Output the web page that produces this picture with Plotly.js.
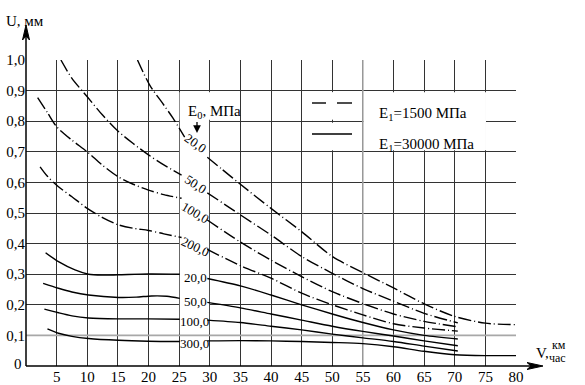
<!DOCTYPE html>
<html>
<head>
<meta charset="utf-8">
<script src="https://cdn.plot.ly/plotly-3.0.1.min.js"></script>
<style>html,body{margin:0;padding:0;background:#fff;}#chart{width:585px;height:385px;}</style>
</head>
<body>
<div id="chart"></div>
<script>
// ---- data ----
const X_TICKS = [5,10,15,20,25,30,35,40,45,50,55,60,65,70,75,80];
const X_TICK_TEXT = ['5','10','15','20','25','30','35','40','45','50','55','60','65','70','75','80'];
const Y_TICKS = [0.1,0.2,0.3,0.4,0.5,0.6,0.7,0.8,0.9,1.0];
const Y_TICK_TEXT = ['0,1','0,2','0,3','0,4','0,5','0,6','0,7','0,8','0,9','1,0'];

// E1 = 1500 MPa (dashed), E0 = 20, 50, 100, 200
const V_D20  = [18.2,20.2,22.5,24,25.9,null,29.6,32,35,40,45,50,55,60,65,70,75,80];
const U_D20  = [1.0,0.918,0.853,0.81,0.748,null,0.682,0.643,0.594,0.515,0.439,0.358,0.305,0.255,0.203,0.162,0.14,0.135];
const V_D50  = [5.7,7.5,10,12.5,15,17.5,20,22.5,25.4,null,29.6,35,40,45,50,55,60,65,70.5];
const U_D50  = [1.0,0.94,0.88,0.82,0.768,0.727,0.69,0.657,0.624,null,0.566,0.494,0.428,0.358,0.303,0.253,0.212,0.172,0.141];
const V_D100 = [1.9,3.5,5,7.5,10,12.5,15,17.5,20,22.5,25.4,null,29.6,35,40,45,50,55,60,65,70.5];
const U_D100 = [0.877,0.828,0.782,0.738,0.70,0.656,0.619,0.594,0.575,0.56,0.548,null,0.477,0.405,0.346,0.292,0.243,0.204,0.17,0.146,0.128];
const V_D200 = [2.3,3.5,5.3,7.5,10,12.5,15,17.5,20,22.5,25.4,null,29.6,35,40,45,50,55,60,65,70.5];
const U_D200 = [0.651,0.62,0.586,0.553,0.515,0.485,0.462,0.45,0.443,0.432,0.42,null,0.381,0.328,0.287,0.238,0.2,0.167,0.138,0.124,0.114];

// E1 = 30000 MPa (solid), E0 = 20, 50, 100, 300
const V_S20  = [3.2,5.3,8,10.2,12.5,15,20,25.1,null,29.6,35,40,45,50,55,60,65,70.5];
const U_S20  = [0.37,0.341,0.314,0.3,0.297,0.298,0.301,0.3,null,0.286,0.262,0.232,0.2,0.17,0.142,0.118,0.1,0.088];
const V_S50  = [2.8,5.3,7.5,10.2,15.1,18,20.5,23,25.1,null,29.6,35,40,45,50,55,60,65,70.5];
const U_S50  = [0.27,0.254,0.242,0.232,0.224,0.225,0.229,0.228,0.221,null,0.208,0.19,0.17,0.15,0.13,0.113,0.098,0.082,0.066];
const V_S100 = [3,5.3,7.5,10.2,15,20,25.1,null,29.6,35,40,45,50,55,60,65,70.5];
const U_S100 = [0.186,0.174,0.164,0.157,0.154,0.154,0.153,null,0.15,0.142,0.13,0.118,0.104,0.092,0.08,0.065,0.049];
const V_S300 = [3.5,5.3,7.5,10.2,15.1,20,25.1,null,29.6,35,40,45,50,55,60,65,70,75,80];
const U_S300 = [0.121,0.107,0.097,0.09,0.084,0.081,0.08,null,0.082,0.083,0.082,0.08,0.077,0.073,0.063,0.048,0.037,0.034,0.034];

const LABELS_D = ['20,0','50,0','100,0','200,0'];
const LABELS_S = ['20,0','50,0','100,0','300,0'];
const LEGEND_TEXT = ['E<sub>1</sub>=1500 МПа','E<sub>1</sub>=30000 МПа'];

// ---- build ----
const FONT = 'Liberation Serif';
const DASH = '13px,3px,1px,3px';
function tr(x, y, dashed) {
  return {x: x, y: y, type: 'scatter', mode: 'lines', connectgaps: false, hoverinfo: 'skip',
    line: {color: '#000', width: 1.4, shape: 'spline', smoothing: 0.8, dash: dashed ? DASH : 'solid'},
    showlegend: false};
}
const data = [
  tr(V_D20, U_D20, true), tr(V_D50, U_D50, true), tr(V_D100, U_D100, true), tr(V_D200, U_D200, true),
  tr(V_S20, U_S20, false), tr(V_S50, U_S50, false), tr(V_S100, U_S100, false), tr(V_S300, U_S300, false)
];

// pixel helpers for the plot frame (l=26, t=60, w=490, h=306)
const PX = p => (p - 26) / 490;
const PY = p => (366 - p) / 306;

const white = (x0, x1, y0, y1) => ({type: 'rect', xref: 'x', yref: 'y', x0: x0, x1: x1, y0: y0, y1: y1,
  fillcolor: '#fff', line: {width: 0}, layer: 'between'});
const shapes = [
  white(25.1, 29.9, 0.105, 0.895),   // gap with curve labels
  white(25.1, 34.8, 0.805, 0.895),   // E0 label
  white(55.1, 75.1, 0.705, 0.895),   // legend box
  white(49.6, 50.4, 0.705, 0.795),
  white(49.6, 50.4, 0.805, 0.895),
  // lighter grid lines seen in the reference
  {type: 'line', xref: 'x', yref: 'y', x0: 0, x1: 80, y0: 0.1, y1: 0.1, line: {color: '#a8a8a8', width: 1.6}, layer: 'between'},
  {type: 'rect', xref: 'x', yref: 'y', x0: 54.88, x1: 55.12, y0: 0, y1: 1, fillcolor: '#a8a8a8', line: {width: 0}, layer: 'between'},
  // axes with arrows
  {type: 'line', xref: 'paper', yref: 'paper', x0: 0, x1: 0, y0: 0, y1: PY(36), line: {color: '#000', width: 1.5}},
  {type: 'path', xref: 'paper', yref: 'paper', path: `M ${PX(26)} ${PY(25)} L ${PX(22.5)} ${PY(40)} L ${PX(26)} ${PY(36)} L ${PX(29.5)} ${PY(40)} Z`,
    fillcolor: '#000', line: {color: '#000', width: 1}},
  {type: 'line', xref: 'paper', yref: 'paper', x0: 0, x1: PX(532), y0: 0, y1: 0, line: {color: '#000', width: 1.5}},
  {type: 'path', xref: 'paper', yref: 'paper', path: `M ${PX(543)} ${PY(366)} L ${PX(527)} ${PY(362.5)} L ${PX(531)} ${PY(366)} L ${PX(527)} ${PY(369.5)} Z`,
    fillcolor: '#000', line: {color: '#000', width: 1}},
  // legend samples
  {type: 'line', xref: 'paper', yref: 'paper', x0: PX(312), x1: PX(326), y0: PY(103), y1: PY(103), line: {color: '#000', width: 1.4}},
  {type: 'line', xref: 'paper', yref: 'paper', x0: PX(337), x1: PX(352), y0: PY(103), y1: PY(103), line: {color: '#000', width: 1.4}},
  {type: 'line', xref: 'paper', yref: 'paper', x0: PX(312), x1: PX(352), y0: PY(134), y1: PY(134), line: {color: '#000', width: 1.4}}
];

const ann = [];
const dPos = [[27.75, 0.727, 35], [27.75, 0.592, 33], [27.6, 0.503, 30], [27.6, 0.392, 25]];
LABELS_D.forEach((t, i) => ann.push({x: dPos[i][0], y: dPos[i][1], xref: 'x', yref: 'y', text: t, textangle: dPos[i][2],
  showarrow: false, font: {family: FONT, size: 13, color: '#000'}}));
const sPos = [[27.75, 0.289], [27.75, 0.211], [27.5, 0.147], [27.5, 0.075]];
LABELS_S.forEach((t, i) => ann.push({x: sPos[i][0], y: sPos[i][1], xref: 'x', yref: 'y', text: t,
  showarrow: false, font: {family: FONT, size: 13, color: '#000'}}));
ann.push({x: PX(377), y: PY(103), xref: 'paper', yref: 'paper', xanchor: 'left', text: LEGEND_TEXT[0], showarrow: false, font: {family: FONT, size: 15, color: '#000'}});
ann.push({x: PX(377), y: PY(134), xref: 'paper', yref: 'paper', xanchor: 'left', text: LEGEND_TEXT[1], showarrow: false, font: {family: FONT, size: 15, color: '#000'}});
ann.push({x: PX(214), y: PY(101), xref: 'paper', yref: 'paper', text: 'E<sub>0</sub>, МПа', showarrow: false, font: {family: FONT, size: 15, color: '#000'}});
ann.push({x: PX(197), y: PY(133), xref: 'paper', yref: 'paper', text: ' ', showarrow: true, ax: 0, ay: -21, arrowhead: 2, arrowsize: 1.2, arrowwidth: 1.3, arrowcolor: '#000'});
ann.push({x: PX(12), y: PY(374), xref: 'paper', yref: 'paper', text: '0', showarrow: false, font: {family: FONT, size: 15, color: '#000'}});
ann.push({x: PX(4), y: PY(11), xref: 'paper', yref: 'paper', xanchor: 'left', text: 'U, мм', showarrow: false, font: {family: FONT, size: 15, color: '#000'}});
ann.push({x: PX(551), y: PY(363), xref: 'paper', yref: 'paper', text: 'V,', showarrow: false, font: {family: FONT, size: 15, color: '#000'}});
ann.push({x: PX(568), y: PY(354), xref: 'paper', yref: 'paper', text: 'км', showarrow: false, font: {family: FONT, size: 12, color: '#000'}});
ann.push({x: PX(568), y: PY(367), xref: 'paper', yref: 'paper', text: 'час', showarrow: false, font: {family: FONT, size: 12, color: '#000'}});

const layout = {
  width: 585, height: 385,
  margin: {l: 26, r: 69, t: 60, b: 19, pad: 0},
  paper_bgcolor: '#fff', plot_bgcolor: '#fff',
  showlegend: false,
  xaxis: {range: [0, 80], tickvals: X_TICKS, ticktext: X_TICK_TEXT, showgrid: true, gridcolor: '#333', gridwidth: 1,
    zeroline: false, showline: false, ticks: '', tickfont: {family: FONT, size: 15, color: '#000'}, fixedrange: true},
  yaxis: {range: [0, 1], tickvals: Y_TICKS, ticktext: Y_TICK_TEXT, showgrid: true, gridcolor: '#333', gridwidth: 1,
    zeroline: false, showline: false, ticks: '', tickfont: {family: FONT, size: 15, color: '#000'}, fixedrange: true},
  shapes: shapes,
  annotations: ann
};
Plotly.newPlot('chart', data, layout, {staticPlot: true, displayModeBar: false});
</script>
</body>
</html>
